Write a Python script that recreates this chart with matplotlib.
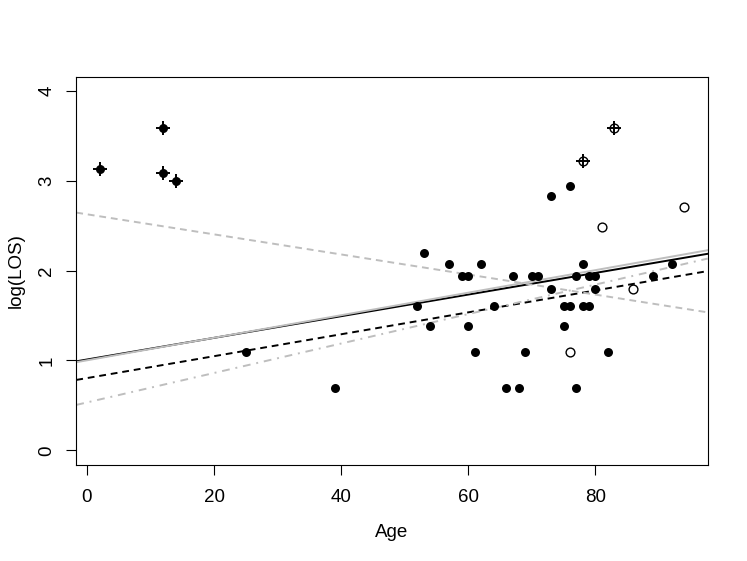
import numpy as np
import matplotlib
matplotlib.use("Agg")
import matplotlib.pyplot as plt

plt.rcParams['font.family'] = ['Liberation Sans', 'DejaVu Sans']

# group 1 (filled points)
age_a = [2, 12, 12, 14, 25, 39, 52, 53, 54, 57, 59, 60, 60, 61, 62, 64, 66, 67,
         68, 69, 70, 71, 73, 73, 75, 75, 76, 76, 77, 77, 78, 78, 79, 79, 80, 80,
         82, 89, 92]
los_a = [23, 36, 22, 20, 3, 2, 5, 9, 4, 8, 7, 7, 4, 3, 8, 5, 2, 7,
         2, 3, 7, 7, 17, 6, 5, 4, 19, 5, 7, 2, 8, 5, 7, 5, 7, 6,
         3, 7, 8]

# group 2 (open points)
age_b = [76, 78, 81, 83, 86, 94]
los_b = [3, 25, 12, 36, 6, 15]

# flagged points (drawn with an extra "+")
out_age = [2, 12, 12, 14, 78, 83]
out_los = [23, 36, 22, 20, 25, 36]

# fitted lines (intercept, slope)
fit_int = [1.011, 1.002, 0.804, 0.533, 2.628]
fit_slope = [0.01205, 0.01255, 0.0122, 0.01640, -0.01118]
fit_color = ['black', '#BEBEBE', 'black', '#BEBEBE', '#BEBEBE']
fit_style = ['-', '-', (0, (3.5, 2.5)), (0, (4, 3, 1, 3)), (0, (3.5, 2.5))]


def main():
    fig = plt.figure(figsize=(7.47, 5.61), dpi=100)
    ax = fig.add_axes([0.1021, 0.1717, 0.8453, 0.6916])

    xlim = (-1.68, 97.68)
    ylim = (-0.16, 4.16)

    xs = np.array(xlim)
    for a, b, c, ls in zip(fit_int, fit_slope, fit_color, fit_style):
        ax.plot(xs, a + b * xs, color=c, linestyle=ls, linewidth=1.4, zorder=2)

    ax.scatter(age_a, np.log(los_a), s=42, color='black', zorder=3, linewidths=0)
    ax.scatter(age_b, np.log(los_b), s=40, facecolors='white', edgecolors='black',
               linewidths=1.0, zorder=3)
    ax.scatter(out_age, np.log(out_los), marker='+', s=110, color='black',
               linewidths=1.4, zorder=4)

    ax.set_xlim(xlim)
    ax.set_ylim(ylim)
    ax.set_xticks([0, 20, 40, 60, 80])
    ax.set_yticks([0, 1, 2, 3, 4])
    ax.tick_params(direction='out', length=7, width=0.8, labelsize=13.5)
    ax.tick_params(axis='x', pad=10.5)
    ax.tick_params(axis='y', pad=8)
    for lab in ax.get_yticklabels():
        lab.set_rotation(90)
        lab.set_va('center')
    ax.set_xlabel('Age', fontsize=13.5, labelpad=13)
    ax.set_ylabel('log(LOS)', fontsize=13.5, labelpad=10)
    for sp in ax.spines.values():
        sp.set_linewidth(0.8)

    fig.savefig('out.png', dpi=100)


if __name__ == "__main__":
    main()
